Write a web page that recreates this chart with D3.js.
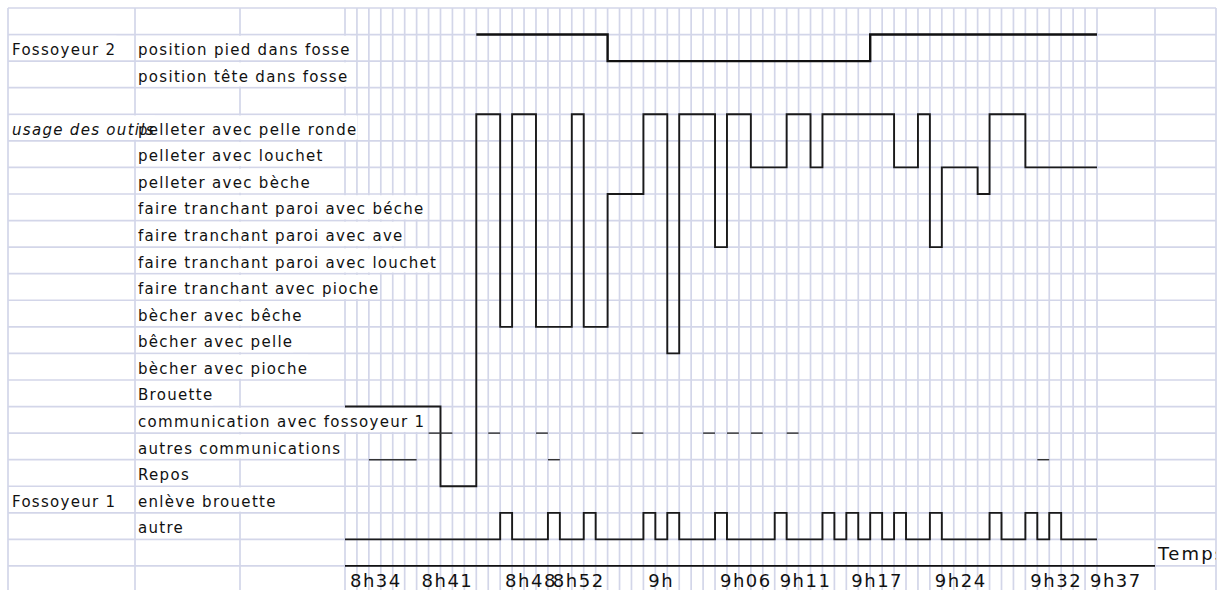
<!DOCTYPE html>
<html>
<head>
<meta charset="utf-8">
<script src="https://cdn.jsdelivr.net/npm/d3@7"></script>
<style>
    body { margin: 0; background: #fff; }
    svg text { font-family: "DejaVu Sans", Verdana, sans-serif; }
</style>
</head>
<body>
<svg id="chart"></svg>
<script>
// Sheet text, one entry per spreadsheet row
const sheetCol1 = ["", "Fossoyeur 2", "", "", "usage des outils", "", "", "", "", "", "", "", "", "", "", "", "", "", "Fossoyeur 1", "", "", ""];
const sheetCol2 = ["", "position pied dans fosse", "position tête dans fosse", "", "pelleter avec pelle ronde",
    "pelleter avec louchet", "pelleter avec bèche", "faire tranchant paroi avec béche", "faire tranchant paroi avec ave",
    "faire tranchant paroi avec louchet", "faire tranchant avec pioche", "bècher avec bêche", "bêcher avec pelle",
    "bècher avec pioche", "Brouette", "communication avec fossoyeur 1", "autres communications", "Repos",
    "enlève brouette", "autre", "", ""];

// y value of every state (higher = further up)
const stateNames = ["position pied dans fosse", "position tête dans fosse", "pelleter avec pelle ronde",
    "pelleter avec louchet", "pelleter avec bèche", "faire tranchant paroi avec béche", "faire tranchant paroi avec ave",
    "faire tranchant paroi avec louchet", "faire tranchant avec pioche", "bècher avec bêche", "bêcher avec pelle",
    "bècher avec pioche", "Brouette", "communication avec fossoyeur 1", "autres communications", "Repos",
    "enlève brouette", "autre"];
const stateValues = [19, 18, 16, 14, 13, 12, 11, 10, 9, 8, 7, 6, 5, 4, 3, 2, 1, 0];

// time axis (minutes after 8h34)
const timeLabels = ["8h34", "8h41", "8h48", "8h52", "9h", "9h06", "9h11", "9h17", "9h24", "9h32", "9h37"];
const timeMinutes = [0, 7, 14, 18, 26, 32, 37, 43, 50, 58, 63];
const endMinute = 63;

// Fossoyeur 2 position
const positionTimes = [11, 22, 44];
const positionStates = ["position pied dans fosse", "position tête dans fosse", "position pied dans fosse"];

// Fossoyeur 2 tool usage
const toolTimes = [0, 8, 11, 13, 14, 16, 19, 20, 22, 25, 27, 28, 31, 32, 34, 37, 39, 40, 46, 48, 49, 50, 53, 54, 57];
const toolStates = ["Brouette", "Repos", "pelleter avec pelle ronde", "bècher avec bêche", "pelleter avec pelle ronde",
    "bècher avec bêche", "pelleter avec pelle ronde", "bècher avec bêche", "pelleter avec bèche",
    "pelleter avec pelle ronde", "bêcher avec pelle", "pelleter avec pelle ronde", "faire tranchant paroi avec ave",
    "pelleter avec pelle ronde", "pelleter avec louchet", "pelleter avec pelle ronde", "pelleter avec louchet",
    "pelleter avec pelle ronde", "pelleter avec louchet", "pelleter avec pelle ronde", "faire tranchant paroi avec ave",
    "pelleter avec louchet", "pelleter avec bèche", "pelleter avec pelle ronde", "pelleter avec louchet"];

// communications (one-minute marks / spans)
const commF1Minutes = [7, 8, 12, 16, 24, 30, 32, 34, 37];
const otherCommStart = [2, 17, 58];
const otherCommEnd = [6, 18, 59];

// Fossoyeur 1 : minutes where he removes the wheelbarrow
const f1PulseMinutes = [13, 17, 20, 25, 27, 31, 36, 40, 42, 44, 46, 49, 54, 57, 59];

const W = 1221, H = 590;
const sheetTop = 8, rowH = 26.57;
const colLines = [8, 135, 240, 345];
const rightCols = [1155, 1216];

const svg = d3.select("#chart").attr("width", W).attr("height", H);

const x = d3.scaleLinear().domain([0, endMinute]).range([345, 1097]);
const y = d3.scaleLinear().domain([20, 0]).range([sheetTop, sheetTop + 20 * rowH]);
const rowY = (i) => sheetTop + i * rowH;
const valueOf = (name) => stateValues[stateNames.indexOf(name)];

// grid
const grid = svg.append("g").attr("stroke", "#d3d6e9").attr("stroke-width", 1.7);
grid.selectAll(".h").data(d3.range(23)).join("line")
    .attr("x1", 8).attr("x2", 1216)
    .attr("y1", rowY).attr("y2", rowY);
const vLines = colLines.concat(d3.range(1, endMinute + 1).map(x), rightCols);
grid.selectAll(".v").data(vLines).join("line")
    .attr("x1", (d) => d).attr("x2", (d) => d)
    .attr("y1", sheetTop).attr("y2", H + 5);

// sheet labels (text hides the vertical grid it spills over)
const bgLayer = svg.append("g");
const textLayer = svg.append("g");
function addLabel(txt, i, lx, italic) {
    if (!txt) return;
    const t = textLayer.append("text")
        .attr("x", lx).attr("y", rowY(i) + 20.5)
        .attr("font-size", 15).attr("letter-spacing", 1.3)
        .attr("fill", "#111")
        .style("font-style", italic ? "italic" : "normal")
        .text(txt);
    const len = t.node().getComputedTextLength();
    bgLayer.append("rect").attr("fill", "#fff")
        .attr("x", lx - 2).attr("width", len + 2)
        .attr("y", rowY(i) + 1.2).attr("height", rowH - 2.4);
}
sheetCol1.forEach((d, i) => addLabel(d, i, 12, i === 4));
sheetCol2.forEach((d, i) => addLabel(d, i, 138, false));

// step lines
const stepLine = d3.line()
    .x((d) => x(d[0]))
    .y((d) => y(d[1]))
    .curve(d3.curveStepAfter);

const positionPts = positionTimes.map((t, i) => [t, valueOf(positionStates[i])]);
positionPts.push([endMinute, positionPts[positionPts.length - 1][1]]);

const toolPts = toolTimes.map((t, i) => [t, valueOf(toolStates[i])]);
toolPts.push([endMinute, toolPts[toolPts.length - 1][1]]);

const base = valueOf("autre"), up = valueOf("enlève brouette");
const f1Pts = [[0, base]];
f1PulseMinutes.forEach((m) => { f1Pts.push([m, up]); f1Pts.push([m + 1, base]); });
f1Pts.push([endMinute, base]);

svg.append("path").attr("d", stepLine(positionPts))
    .attr("fill", "none").attr("stroke", "#111").attr("stroke-width", 2.4);
svg.append("path").attr("d", stepLine(toolPts))
    .attr("fill", "none").attr("stroke", "#1a1a1a").attr("stroke-width", 1.9);
svg.append("path").attr("d", stepLine(f1Pts))
    .attr("fill", "none").attr("stroke", "#1a1a1a").attr("stroke-width", 1.9);

// communications
const commY = y(valueOf("communication avec fossoyeur 1"));
svg.selectAll(".comm").data(commF1Minutes).join("line")
    .attr("x1", (d) => x(d)).attr("x2", (d) => x(d + 1))
    .attr("y1", commY).attr("y2", commY)
    .attr("stroke", "#333").attr("stroke-width", 1.4);
const otherY = y(valueOf("autres communications"));
svg.selectAll(".other").data(otherCommStart).join("line")
    .attr("x1", (d) => x(d)).attr("x2", (d, i) => x(otherCommEnd[i]))
    .attr("y1", otherY).attr("y2", otherY)
    .attr("stroke", "#333").attr("stroke-width", 1.4);

// time axis
const axisY = rowY(21);
svg.append("line")
    .attr("x1", x(0)).attr("x2", 1155)
    .attr("y1", axisY).attr("y2", axisY)
    .attr("stroke", "#111").attr("stroke-width", 1.8);
svg.selectAll(".tick").data(timeMinutes).join("text")
    .attr("x", (d) => Math.max(x(d) - 7, x(0) + 5))
    .attr("y", axisY + 21)
    .attr("font-size", 18).attr("letter-spacing", 1.5)
    .attr("fill", "#111")
    .text((d, i) => timeLabels[i]);

svg.append("clipPath").attr("id", "tclip")
    .append("rect").attr("x", 1155).attr("y", rowY(20)).attr("width", 61).attr("height", rowH);
svg.append("text")
    .attr("x", 1158).attr("y", rowY(20) + 20.6)
    .attr("font-size", 18).attr("letter-spacing", 2.2)
    .attr("fill", "#111")
    .attr("clip-path", "url(#tclip)")
    .text("Temps");
</script>
</body>
</html>
